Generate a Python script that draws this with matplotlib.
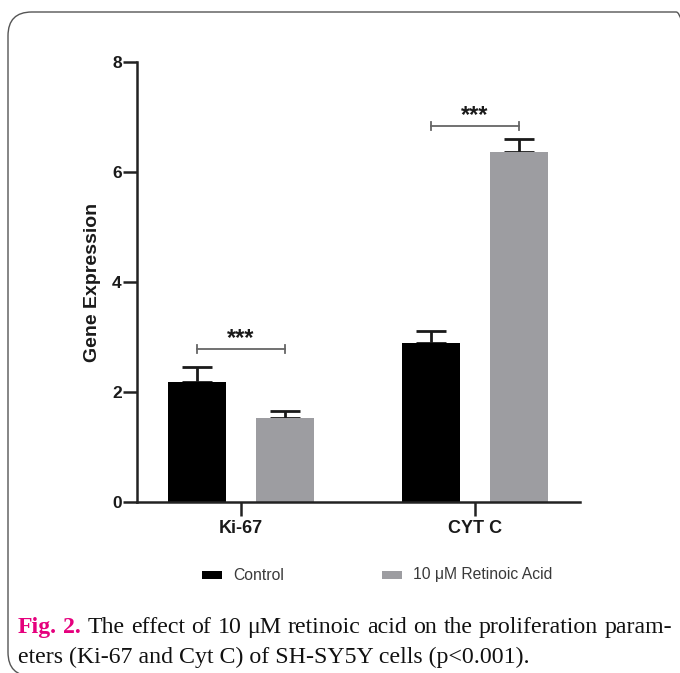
import matplotlib
matplotlib.use("Agg")
import matplotlib.pyplot as plt
from matplotlib.patches import FancyBboxPatch, Rectangle
import numpy as np

categories = ["Ki-67", "CYT C"]
series_names = ["Control", "10 μM Retinoic Acid"]
control = [2.18, 2.90]
control_err = [0.27, 0.21]
retinoic = [1.52, 6.36]
retinoic_err = [0.13, 0.24]
sig_heights = [2.78, 6.84]
sig_labels = ["***", "***"]
y_ticks = [0, 2, 4, 6, 8]

W, H = 680, 673
fig = plt.figure(figsize=(W / 100, H / 100), dpi=100)
fig.patch.set_facecolor("white")

# border box
box = FancyBboxPatch((8 / W, 1 - 676 / H), (700 - 8) / W, (676 - 12) / H,
                     boxstyle="round,pad=0,rounding_size=0.035",
                     transform=fig.transFigure, fill=False,
                     edgecolor="#555555", linewidth=1.0, mutation_aspect=W / H)
fig.patches.append(box)

ax = fig.add_axes([137 / W, 1 - 502 / H, (580 - 137) / W, (502 - 62) / H])
x = np.arange(len(categories))
off = 0.188
bw = 0.248
black = "#000000"
gray = "#9d9da1"
ink = "#1a1a1a"

ax.bar(x - off, control, bw, color=black, zorder=2)
ax.bar(x + off, retinoic, bw, color=gray, zorder=2)
ax.errorbar(x - off, control, yerr=[np.zeros(len(control)), control_err], fmt="none",
            ecolor="#1a1a1a", elinewidth=2.0, capsize=11, capthick=2.0, zorder=1)
ax.errorbar(x + off, retinoic, yerr=[np.zeros(len(retinoic)), retinoic_err], fmt="none",
            ecolor="#1a1a1a", elinewidth=2.0, capsize=11, capthick=2.0, zorder=1)

for i, (h, lab) in enumerate(zip(sig_heights, sig_labels)):
    x0, x1 = x[i] - off, x[i] + off
    ax.plot([x0, x1], [h, h], color="#666666", lw=1.3)
    ax.plot([x0, x0], [h - 0.07, h + 0.07], color="#666666", lw=1.3)
    ax.plot([x1, x1], [h - 0.07, h + 0.07], color="#666666", lw=1.3)
    ax.text((x0 + x1) / 2, h - 0.02, lab, ha="center", va="bottom",
            fontsize=17, fontweight="bold", family="Liberation Sans", color=ink)

ax.set_xlim(-0.444, 1.449)
ax.set_ylim(0, 8)
ax.set_yticks(y_ticks)
ax.set_yticklabels([str(t) for t in y_ticks], fontsize=12.5, fontweight="bold",
                   family="Liberation Sans", color=ink)
ax.set_xticks(x)
ax.set_xticklabels(categories, fontsize=13, fontweight="bold",
                   family="Liberation Sans", color=ink)
for s in ["top", "right"]:
    ax.spines[s].set_visible(False)
for s in ["left", "bottom"]:
    ax.spines[s].set_linewidth(1.8)
    ax.spines[s].set_color("#222222")
ax.tick_params(axis="y", direction="out", length=10, width=1.8, color="#222222", pad=1)
ax.tick_params(axis="x", direction="out", length=10, width=1.8, color="#222222", pad=3)
ax.set_ylabel("Gene Expression", fontsize=14, fontweight="bold",
              family="Liberation Sans", color=ink)
ax.yaxis.set_label_coords(-0.081, 0.5)

# legend
fig.patches.append(Rectangle((202 / W, 1 - 579 / H), 20 / W, 8 / H, transform=fig.transFigure,
                             facecolor=black, edgecolor="none"))
fig.text(233 / W, 1 - 575 / H, series_names[0], fontsize=11.3, family="Liberation Sans",
         color="#3a3a3a", va="center", ha="left")
fig.patches.append(Rectangle((382 / W, 1 - 579 / H), 20 / W, 8 / H, transform=fig.transFigure,
                             facecolor=gray, edgecolor="none"))
fig.text(413 / W, 1 - 575 / H, series_names[1], fontsize=11.3, family="Liberation Sans",
         color="#3a3a3a", va="center", ha="left")

# caption (line 1 justified)
fs = 17.2
r = fig.canvas.get_renderer()
words1 = [("Fig.", True), ("2.", True)] + [(w, False) for w in
          "The effect of 10 μM retinoic acid on the proliferation param-".split()]
texts = []
for w, bold in words1:
    t = fig.text(0, 1 - 633 / H, w, fontsize=fs, family="Liberation Serif",
                 fontweight="bold" if bold else "normal",
                 color="#e5007d" if bold else "#111111", va="baseline", ha="left")
    texts.append(t)
widths = [t.get_window_extent(r).width for t in texts]
gap = (672 - 18 - sum(widths)) / (len(texts) - 1)
xp = 18
for t, wd in zip(texts, widths):
    t.set_x(xp / W)
    xp += wd + gap
fig.text(18 / W, 1 - 663 / H, "eters (Ki-67 and Cyt C) of SH-SY5Y cells (p<0.001).",
         fontsize=fs, family="Liberation Serif", color="#111111", va="baseline", ha="left")

fig.savefig("out.png", dpi=100, facecolor="white")
